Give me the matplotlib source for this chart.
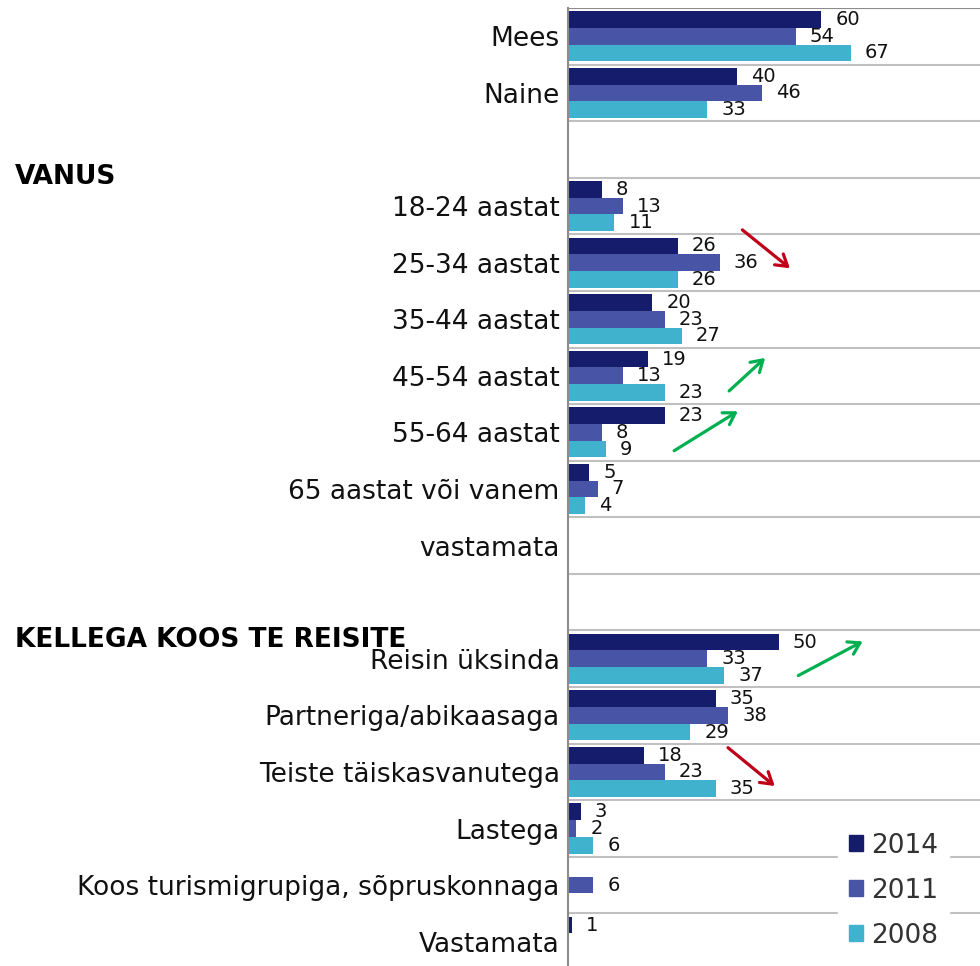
#survey profile bars 2014/2011/2008 with trend arrows
import numpy as np
import matplotlib.pyplot as plt
from matplotlib.patches import Patch

nan = np.nan
cats = ["Mees", "Naine", "",
        "18-24 aastat", "25-34 aastat", "35-44 aastat", "45-54 aastat",
        "55-64 aastat", "65 aastat või vanem", "vastamata", "",
        "Reisin üksinda", "Partneriga/abikaasaga", "Teiste täiskasvanutega",
        "Lastega", "Koos turismigrupiga, sõpruskonnaga", "Vastamata"]
v2014 = [60, 40, nan, 8, 26, 20, 19, 23, 5, nan, nan, 50, 35, 18, 3, nan, 1]
v2011 = [54, 46, nan, 13, 36, 23, 13, 8, 7, nan, nan, 33, 38, 23, 2, 6, nan]
v2008 = [67, 33, nan, 11, 26, 27, 23, 9, 4, nan, nan, 37, 29, 35, 6, nan, nan]
years = ["2014", "2011", "2008"]
colors = ["#151c6b", "#4854a6", "#40b2cd"]

# section headers (figure y in px from top)
headers = [("SUGU", -8), ("VANUS", 177), ("KELLEGA KOOS TE REISITE", 640)]

# trend arrows: (x0, row0, x1, row1, color)
arrows = [(40.8, 3.39, 53.1, 4.13, "#c00018"),
          (37.7, 6.30, 47.2, 5.65, "#00b050"),
          (24.6, 7.35, 40.8, 6.60, "#00b050"),
          (54.0, 11.32, 70.4, 10.67, "#00b050"),
          (37.4, 12.54, 49.5, 13.28, "#c00018")]

W, H = 980, 966
fig = plt.figure(figsize=(W/100, H/100), dpi=100)
ax = fig.add_axes([568/W, 1-970/H, 1-568/W, 962/H])

n = len(cats)
y = np.arange(n)
bh = 0.295
for k, (vals, col) in enumerate(zip([v2014, v2011, v2008], colors)):
    yy = y + (k-1)*bh
    vals = np.array(vals, dtype=float)
    ax.barh(yy, np.nan_to_num(vals), height=bh, color=col, zorder=2)
    for yi, v in zip(yy, vals):
        if not np.isnan(v):
            ax.annotate(f"{v:.0f}", (v, yi), xytext=(14, 0), textcoords="offset pixels",
                        va="center", ha="left", fontsize=14, color="#111111", zorder=3)

ax.set_xlim(0, (W-568)/4.22)
ax.set_ylim(n-0.5, -0.5)
for b in np.arange(-0.5, n, 1.0):
    ax.axhline(b, color="#c0c0c0", lw=1.5, zorder=1)
ax.axhline(-0.5, color="#8c8c8c", lw=1.5, zorder=1)

ax.set_yticks(y)
ax.set_yticklabels(cats, fontsize=19, color="#111111")
ax.tick_params(axis="y", length=0, pad=6)
ax.set_xticks([])
for s in ["top", "right", "bottom"]:
    ax.spines[s].set_visible(False)
ax.spines["left"].set_color("#8c8c8c")
ax.spines["left"].set_linewidth(1.5)

for x0, r0, x1, r1, c in arrows:
    ax.annotate("", xy=(x1, r1), xytext=(x0, r0),
                arrowprops=dict(arrowstyle="->,head_length=0.8,head_width=0.5",
                                color=c, lw=2.3), zorder=4)

for txt, py in headers:
    fig.text(15/W, 1-py/H, txt, fontsize=19, fontweight="bold", va="center", ha="left")

handles = [Patch(color=c, label=l) for c, l in zip(colors, years)]
leg = ax.legend(handles=handles, loc="upper left", bbox_to_anchor=(838/W, 1-822/H),
                bbox_transform=fig.transFigure, fontsize=19, frameon=True,
                facecolor="white", edgecolor="white", framealpha=1,
                handlelength=0.55, handleheight=0.55, handletextpad=0.3,
                labelspacing=0.72, borderpad=0.4, borderaxespad=0)
for t in leg.get_texts():
    t.set_color("#333333")
leg.set_zorder(5)

fig.savefig("out.png", dpi=100)
